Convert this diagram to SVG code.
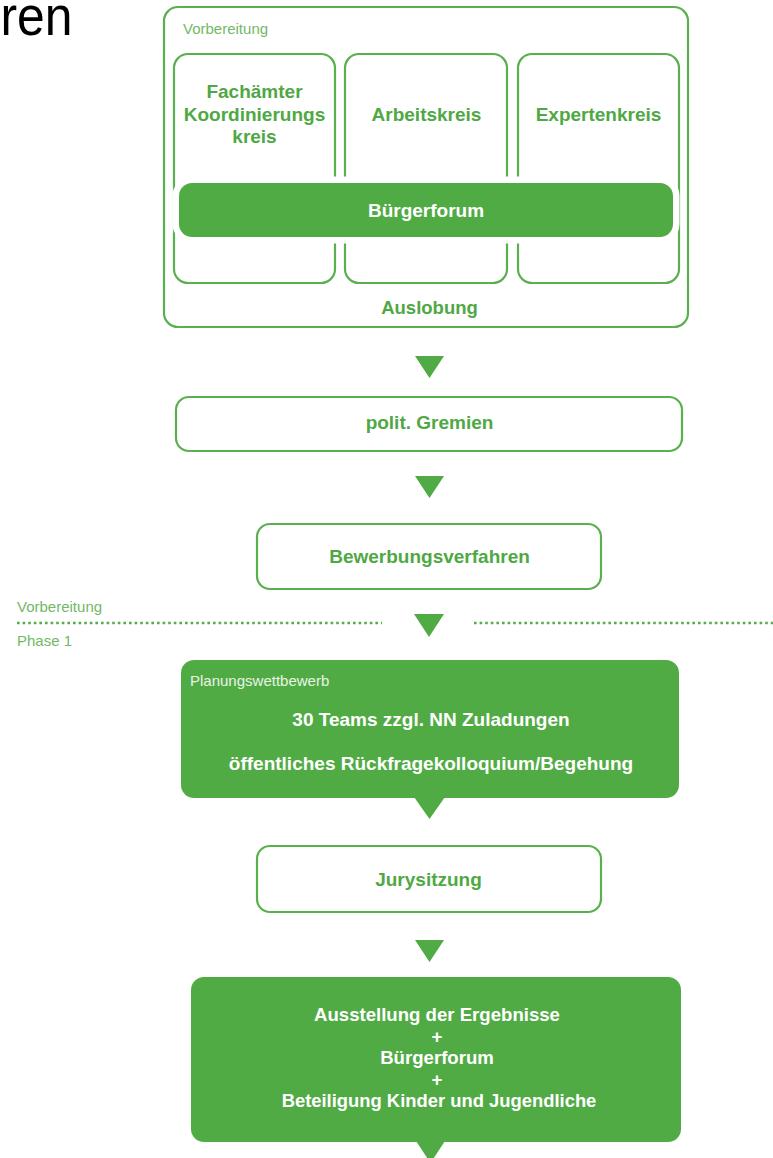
<svg xmlns="http://www.w3.org/2000/svg" width="773" height="1158" viewBox="0 0 773 1158">
<defs>
<style>
.bg{fill:#ffffff}
.box{fill:#ffffff;stroke:#5aaf4e;stroke-width:2.2}
.gbox{fill:#51ab44}
.tri{fill:#51ab44}
.lbl{font-family:"Liberation Sans",Arial,Helvetica,sans-serif;font-weight:bold;font-size:19px;fill:#50a844;text-anchor:middle}
.wlbl{font-family:"Liberation Sans",Arial,Helvetica,sans-serif;font-weight:bold;font-size:19px;fill:#ffffff;text-anchor:middle}
.small{font-family:"Liberation Sans",Arial,Helvetica,sans-serif;font-size:15px;fill:#72b866}
.wsmall{font-family:"Liberation Sans",Arial,Helvetica,sans-serif;font-size:15px;fill:#e8f4e6}
.dots{stroke:#55ad49;stroke-width:2.6;stroke-dasharray:2.6 3;fill:none}
</style>
</defs>
<rect class="bg" x="0" y="0" width="773" height="1158"/>
<text x="0.5" y="35" font-family="Liberation Sans,Arial,Helvetica,sans-serif" font-size="56" fill="#000000" textLength="72" lengthAdjust="spacingAndGlyphs">ren</text>

<g id="vorbereitung-group">
<rect class="box" x="164" y="7" width="524" height="320" rx="14"/>
<text class="small" x="183" y="34">Vorbereitung</text>
</g>
<g id="fachaemter">
<rect class="box" x="174" y="54" width="161" height="229" rx="14"/>
<text class="lbl" x="254.5" y="98">Fachämter</text>
<text class="lbl" x="254.5" y="120.5">Koordinierungs</text>
<text class="lbl" x="254.5" y="143">kreis</text>
</g>
<g id="arbeitskreis">
<rect class="box" x="345" y="54" width="162" height="229" rx="14"/>
<text class="lbl" x="426.5" y="121">Arbeitskreis</text>
</g>
<g id="expertenkreis">
<rect class="box" x="518" y="54" width="161" height="229" rx="14"/>
<text class="lbl" x="598.5" y="121">Expertenkreis</text>
</g>
<g id="buergerforum">
<rect x="179" y="183" width="494" height="54" rx="13" fill="#51ab44" stroke="#ffffff" stroke-width="13" paint-order="stroke"/>
<text class="wlbl" x="426" y="216.5">Bürgerforum</text>
</g>
<g id="auslobung">
<text class="lbl" x="429.5" y="313.5" style="font-size:18.5px">Auslobung</text>
</g>

<g id="polit-gremien">
<rect class="box" x="176" y="397" width="506" height="54" rx="13"/>
<text class="lbl" x="429.5" y="428.5">polit. Gremien</text>
</g>
<g id="bewerbungsverfahren">
<rect class="box" x="257" y="524" width="344" height="65" rx="13"/>
<text class="lbl" x="429.5" y="563">Bewerbungsverfahren</text>
</g>

<g id="phase-separator">
<text class="small" x="17" y="612">Vorbereitung</text>
<text class="small" x="17" y="646">Phase 1</text>
<line class="dots" x1="17" y1="623" x2="382" y2="623"/>
<line class="dots" x1="474" y1="623" x2="773" y2="623"/>
</g>

<g id="planungswettbewerb">
<rect class="gbox" x="181" y="660" width="498" height="138" rx="13"/>
<polygon class="gbox" points="414,797 445,797 429.5,819"/>
<text class="wsmall" x="190" y="686">Planungswettbewerb</text>
<text class="wlbl" x="431" y="726">30 Teams zzgl. NN Zuladungen</text>
<text class="wlbl" x="431" y="770">öffentliches Rückfragekolloquium/Begehung</text>
</g>

<g id="jurysitzung">
<rect class="box" x="257" y="846" width="344" height="66" rx="13"/>
<text class="lbl" x="428.5" y="885.5">Jurysitzung</text>
</g>

<g id="ausstellung">
<rect class="gbox" x="191" y="977" width="490" height="165" rx="13"/>
<polygon class="gbox" points="416,1141 445,1141 430.5,1163"/>
<text class="wlbl" x="437" y="1021" style="font-size:18.6px">Ausstellung der Ergebnisse</text>
<text class="wlbl" x="437" y="1042.5" style="font-size:18.6px">+</text>
<text class="wlbl" x="437" y="1064" style="font-size:18.6px">Bürgerforum</text>
<text class="wlbl" x="437" y="1085.5" style="font-size:18.6px">+</text>
<text class="wlbl" x="439" y="1107" style="font-size:18.4px">Beteiligung Kinder und Jugendliche</text>
</g>

<g id="connectors">
<polygon class="tri" points="415,356 444,356 429.5,378"/>
<polygon class="tri" points="415,476 444,476 429.5,498"/>
<polygon class="tri" points="414,614 444,614 429,637"/>
<polygon class="tri" points="415,940 444,940 429.5,962"/>
</g>
</svg>
